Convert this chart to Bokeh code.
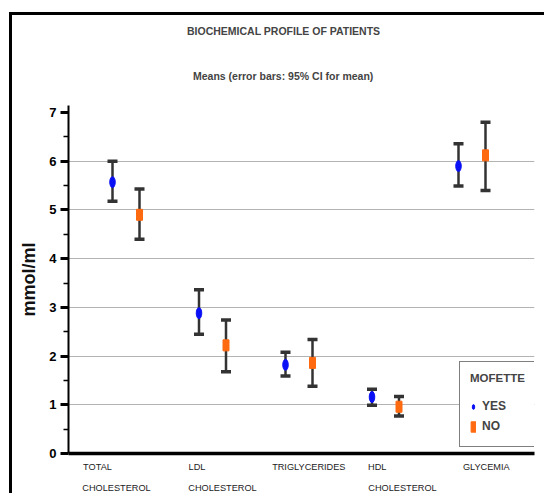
import numpy as np
from bokeh.plotting import figure
from bokeh.models import (Range1d, FixedTicker, Whisker, TeeHead, ColumnDataSource,
                          Legend, LegendItem, LinearAxis, Title)
from bokeh.embed import file_html
from bokeh.resources import INLINE

# ---------------- data ----------------
categories = ["TOTAL CHOLESTEROL", "LDL CHOLESTEROL", "TRIGLYCERIDES", "HDL CHOLESTEROL", "GLYCEMIA"]
label_line1 = ["TOTAL", "LDL", "TRIGLYCERIDES", "HDL", "GLYCEMIA"]
label_line2 = ["CHOLESTEROL", "CHOLESTEROL", "", "CHOLESTEROL", ""]
yes_mean = [5.57, 2.88, 1.82, 1.16, 5.90]
yes_lower = [5.18, 2.45, 1.59, 0.99, 5.49]
yes_upper = [6.00, 3.36, 2.08, 1.32, 6.36]
no_mean = [4.90, 2.22, 1.86, 0.96, 6.12]
no_lower = [4.40, 1.68, 1.38, 0.77, 5.40]
no_upper = [5.43, 2.74, 2.34, 1.17, 6.80]
y_ticks = [0, 1, 2, 3, 4, 5, 6, 7]
y_minor = [0.5, 1.5, 2.5, 3.5, 4.5, 5.5, 6.5]
grid_ticks = [1, 2, 3, 4, 5, 6]
group_names = ["YES", "NO"]
legend_title = "MOFETTE"
title_text = "BIOCHEMICAL PROFILE OF PATIENTS"
subtitle_text = "Means  (error bars: 95% CI for mean)"
y_label = "mmol/ml"

# ---------------- geometry (page pixels) ----------------
PAGE_W, PAGE_H = 547, 496
OX, OY = 12, 15                      # content origin (after frame border lines)
FL, FR, FT, FB = 68, 534, 105, 453   # plot frame in page pixels
CAT0_PX, CAT_STEP = 125.5, 86.5
PX_PER_UNIT = (453 - 112) / 7.0
DODGE = 13.5 / CAT_STEP
line1_dx_px = [-28.5, -15.5, 9.8, -8.3, 14.3]   # label centre offsets from category centre
line2_dx_px = [-9.5, 10.0, 0.0, 17.0, 0.0]

def dx(px):
    return (px - CAT0_PX) / CAT_STEP

def dy(py):
    return (FB - py) / PX_PER_UNIT

idx = np.arange(len(categories))
src_yes = ColumnDataSource(dict(x=idx - DODGE, m=yes_mean, lo=yes_lower, hi=yes_upper))
src_no = ColumnDataSource(dict(x=idx + DODGE, m=no_mean, lo=no_lower, hi=no_upper))

FONT = "Liberation Sans"

p = figure(width=PAGE_W - OX, height=PAGE_H - OY, output_backend="svg", toolbar_location=None, title=None,
           x_range=Range1d(dx(FL), dx(FR)), y_range=Range1d(0, dy(FT)),
           min_border_left=FL - OX, min_border_right=PAGE_W - FR,
           min_border_top=FT - OY, min_border_bottom=PAGE_H - FB)
p.styles = {"margin-left": "9px", "margin-top": "12px",
            "border-left": "3px solid black", "border-top": "3px solid black"}
p.outline_line_color = None
p.background_fill_color = "white"
p.border_fill_color = "white"

# ---- x axes: line 1 and line 2 of the category labels ----
tick_pos1 = [round(float(i + line1_dx_px[i] / CAT_STEP), 4) for i in range(len(categories))]
tick_pos2 = [round(float(i + line2_dx_px[i] / CAT_STEP), 4) for i in range(len(categories)) if label_line2[i]]
text2 = [s for s in label_line2 if s]

xa = p.xaxis[0]
xa.ticker = FixedTicker(ticks=tick_pos1)
xa.major_label_overrides = {t: s for t, s in zip(tick_pos1, label_line1)}
xa.axis_line_width = 3.5
xa.axis_line_color = "black"
xa.major_tick_out = 0
xa.major_tick_in = 0
xa.major_tick_line_color = None
xa.minor_tick_line_color = None
xa.major_label_standoff = 8
xa.major_label_text_font = FONT
xa.major_label_text_font_size = "9.2px"
xa.major_label_text_color = "#222222"
xa.axis_label = None

xa2 = LinearAxis(ticker=FixedTicker(ticks=tick_pos2),
                 major_label_overrides={t: s for t, s in zip(tick_pos2, text2)},
                 axis_line_color=None, major_tick_line_color=None, minor_tick_line_color=None,
                 major_tick_out=0, major_tick_in=0,
                 major_label_standoff=8, major_label_text_font=FONT,
                 major_label_text_font_size="9.2px", major_label_text_color="#222222")
p.add_layout(xa2, "below")

# ---- y axis ----
ya = p.yaxis[0]
ya.ticker = FixedTicker(ticks=y_ticks, minor_ticks=y_minor)
ya.axis_line_width = 2
ya.axis_line_color = "black"
ya.major_tick_out = 8
ya.major_tick_in = 0
ya.major_tick_line_width = 3
ya.minor_tick_out = 5
ya.minor_tick_in = 0
ya.minor_tick_line_width = 1.5
ya.major_label_standoff = 4
ya.major_label_text_font = FONT
ya.major_label_text_font_style = "bold"
ya.major_label_text_font_size = "13px"
ya.major_label_text_color = "black"
ya.axis_label = y_label
ya.axis_label_standoff = 7
ya.axis_label_text_font = FONT
ya.axis_label_text_font_style = "bold"
ya.axis_label_text_font_size = "18px"
ya.axis_label_text_color = "#111111"

p.xgrid.visible = False
p.ygrid.ticker = FixedTicker(ticks=grid_ticks)
p.ygrid.grid_line_color = "#b3b3b3"
p.ygrid.grid_line_width = 1

# ---- error bars ----
for src in (src_yes, src_no):
    w = Whisker(base="x", upper="hi", lower="lo", source=src, dimension="height",
                line_color="#333333", line_width=2.5,
                upper_head=TeeHead(size=10, line_width=3.5, line_color="#333333"),
                lower_head=TeeHead(size=10, line_width=3.5, line_color="#333333"),
                level="underlay")
    p.add_layout(w)

r_yes = p.ellipse(x="x", y="m", width=5.5, height=11, width_units="screen", height_units="screen",
                  source=src_yes, fill_color="#0a10f5", line_color="#0a10f5")
r_no = p.rect(x="x", y="m", width=6, height=11, width_units="screen", height_units="screen",
              source=src_no, fill_color="#ff6a10", line_color="#ff6a10")

# ---- legend ----
legend = Legend(items=[LegendItem(label=group_names[0], renderers=[r_yes]),
                       LegendItem(label=group_names[1], renderers=[r_no])],
                title=legend_title, location=(459 - FL, FB - 447))
legend.title_text_font = FONT
legend.title_text_font_style = "bold"
legend.title_text_font_size = "11.5px"
legend.title_standoff = 12
legend.label_text_font = FONT
legend.label_text_font_style = "bold"
legend.label_text_font_size = "12px"
legend.glyph_width = 6
legend.glyph_height = 13
legend.label_height = 20
legend.label_width = 30
legend.label_standoff = 6
legend.spacing = 0
legend.padding = 10
legend.margin = 0
legend.border_line_color = "black"
legend.border_line_width = 1.5
legend.background_fill_color = "white"
legend.background_fill_alpha = 1
p.add_layout(legend, "center")

# ---- titles (first added sits nearest the frame) ----
p.add_layout(Title(text=subtitle_text, align="left", offset=192.5 - FL, standoff=48,
                   text_font=FONT, text_font_style="bold", text_font_size="10.5px"), "above")
p.add_layout(Title(text=title_text, align="left", offset=186.5 - FL, standoff=14,
                   text_font=FONT, text_font_style="bold", text_font_size="10.5px"), "above")

open("out.html", "w").write(file_html(p, INLINE))
